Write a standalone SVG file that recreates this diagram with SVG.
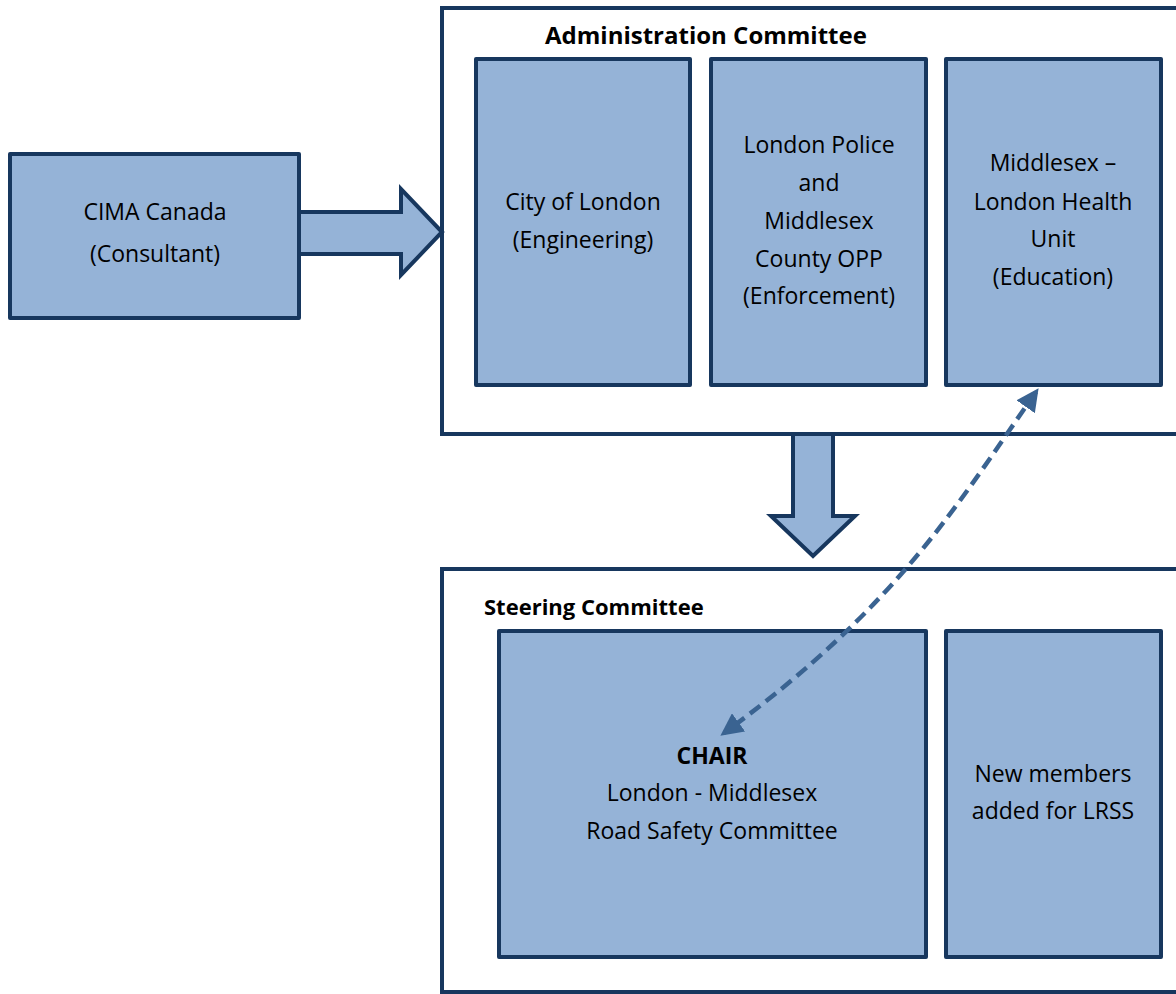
<svg xmlns="http://www.w3.org/2000/svg" width="1176" height="994" viewBox="0 0 1176 994">
  <defs>
    <style>
      .box { fill: #95b3d7; stroke: #17375e; stroke-width: 4; stroke-linejoin: round; }
      .frame { fill: #ffffff; stroke: #17375e; stroke-width: 4; }
      .bigarrow { fill: #95b3d7; stroke: #17375e; stroke-width: 4; stroke-linejoin: miter; }
      .lbl { font-family: "Open Sans", "Liberation Sans", sans-serif; font-size: 23px; fill: #000000; text-anchor: middle; }
      .head { font-family: "Open Sans", "Liberation Sans", sans-serif; font-weight: bold; fill: #000000; }
      .link { fill: none; stroke: #3a6391; stroke-width: 4.5; stroke-dasharray: 13 7; }
    </style>
    <marker id="tip" viewBox="0 0 10 10" refX="8" refY="5" markerWidth="5" markerHeight="5" orient="auto-start-reverse" markerUnits="strokeWidth">
      <path d="M0,0 L10,5 L0,10 z" fill="#3a6391"/>
    </marker>
  </defs>

  <rect width="1176" height="994" fill="#ffffff"/>

  <!-- committee frames -->
  <g id="admin-committee">
    <rect class="frame" x="442" y="8" width="760" height="426"/>
    <text class="head" x="545" y="44" font-size="24">Administration Committee</text>
  </g>
  <g id="steering-committee">
    <rect class="frame" x="442" y="569" width="760" height="423"/>
    <text class="head" x="484" y="615" font-size="22">Steering Committee</text>
  </g>

  <!-- consultant -->
  <g id="cima">
    <rect class="box" x="10" y="154" width="289" height="164"/>
    <text class="lbl" x="155" y="220">CIMA Canada</text>
    <text class="lbl" x="155" y="262">(Consultant)</text>
  </g>

  <!-- administration members -->
  <g id="city-of-london">
    <rect class="box" x="476" y="59" width="214" height="326"/>
    <text class="lbl" x="583" y="210">City of London</text>
    <text class="lbl" x="583" y="248">(Engineering)</text>
  </g>
  <g id="police-opp">
    <rect class="box" x="711" y="59" width="215" height="326"/>
    <text class="lbl" x="819" y="153">London Police</text>
    <text class="lbl" x="819" y="191">and</text>
    <text class="lbl" x="819" y="229">Middlesex</text>
    <text class="lbl" x="819" y="267">County OPP</text>
    <text class="lbl" x="819" y="304">(Enforcement)</text>
  </g>
  <g id="health-unit">
    <rect class="box" x="946" y="59" width="215" height="326"/>
    <text class="lbl" x="1053" y="171">Middlesex –</text>
    <text class="lbl" x="1053" y="210">London Health</text>
    <text class="lbl" x="1053" y="247">Unit</text>
    <text class="lbl" x="1053" y="285">(Education)</text>
  </g>

  <!-- steering members -->
  <g id="chair">
    <rect class="box" x="499" y="631" width="427" height="326"/>
    <text class="lbl" x="712" y="764" font-weight="bold" font-size="22.5">CHAIR</text>
    <text class="lbl" x="712" y="801">London - Middlesex</text>
    <text class="lbl" x="712" y="839">Road Safety Committee</text>
  </g>
  <g id="new-members">
    <rect class="box" x="946" y="631" width="215" height="326"/>
    <text class="lbl" x="1053" y="782">New members</text>
    <text class="lbl" x="1053" y="819">added for LRSS</text>
  </g>

  <!-- connectors -->
  <g id="connectors">
    <path class="bigarrow" d="M299,212 L401,212 L401,189 L442,232 L401,275 L401,254 L299,254 Z"/>
    <path class="bigarrow" d="M793,434 L793,516 L771,516 L813,556 L855,516 L833,516 L833,434 Z"/>
    <path class="link" d="M1036,392 C960,500 900,605 724,733" marker-start="url(#tip)" marker-end="url(#tip)"/>
  </g>
</svg>
